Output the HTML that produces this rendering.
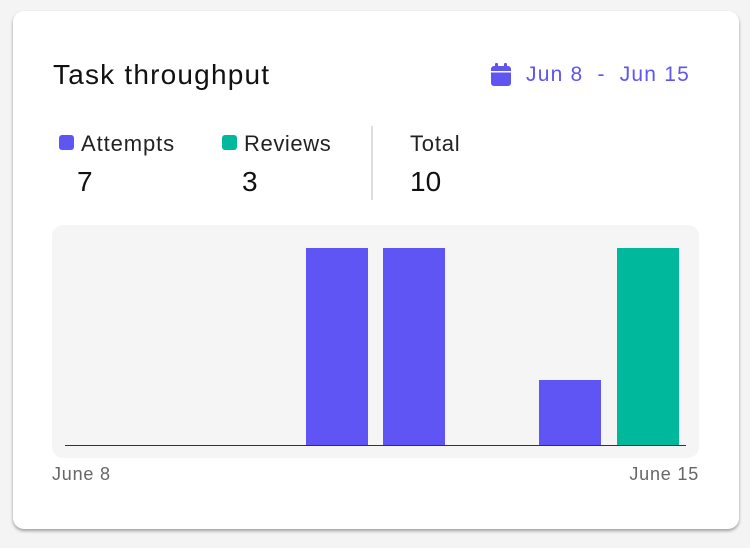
<!DOCTYPE html>
<html><head><style>
body{margin:0;width:750px;height:548px;background:#f4f4f4;font-family:"Liberation Sans",sans-serif;position:relative;overflow:hidden}
.card{position:absolute;left:13px;top:11px;width:726px;height:518px;background:#fff;border-radius:11px;box-shadow:0 2px 3px rgba(0,0,0,.35)}
.t{position:absolute;white-space:nowrap}
.sq{position:absolute;width:15px;height:15px;border-radius:3px}
.bar{position:absolute}
</style></head><body>
<div class="card"></div>
<div class="t" style="left:53px;top:59px;font-size:28px;color:#111;letter-spacing:1.2px">Task throughput</div>
<svg style="position:absolute;left:490px;top:63px" width="22" height="24" viewBox="0 0 22 24"><rect x="1" y="3" width="20" height="20" rx="3" fill="#5f55f0"/><rect x="5" y="0" width="3" height="6" rx="1" fill="#5f55f0"/><rect x="14" y="0" width="3" height="6" rx="1" fill="#5f55f0"/><rect x="1" y="8" width="20" height="1.5" fill="#fff"/></svg>
<div class="t" style="left:526px;top:63px;font-size:21px;color:#5f55f0;letter-spacing:1.2px">Jun 8&nbsp;&nbsp;-&nbsp;&nbsp;Jun 15</div>
<div class="sq" style="left:59px;top:135px;background:#5f55f0"></div>
<div class="t" style="left:81px;top:131px;font-size:22px;color:#222;letter-spacing:0.9px">Attempts</div>
<div class="t" style="left:77px;top:166px;font-size:28px;color:#111">7</div>
<div class="sq" style="left:222px;top:135px;background:#00b89c"></div>
<div class="t" style="left:244px;top:131px;font-size:22px;color:#222;letter-spacing:0.6px">Reviews</div>
<div class="t" style="left:242px;top:166px;font-size:28px;color:#111">3</div>
<div style="position:absolute;left:371px;top:126px;width:2px;height:74px;background:#ddd"></div>
<div class="t" style="left:410px;top:131px;font-size:22px;color:#222;letter-spacing:0.8px">Total</div>
<div class="t" style="left:410px;top:166px;font-size:28px;color:#111">10</div>
<div style="position:absolute;left:52px;top:225px;width:647px;height:233px;background:#f5f5f5;border-radius:11px"></div>
<div class="bar" style="left:306px;top:248px;width:62px;height:197px;background:#5f55f5"></div>
<div class="bar" style="left:383px;top:248px;width:62px;height:197px;background:#5f55f5"></div>
<div class="bar" style="left:539px;top:380px;width:62px;height:65px;background:#5f55f5"></div>
<div class="bar" style="left:617px;top:248px;width:62px;height:197px;background:#00b89c"></div>
<div style="position:absolute;left:65px;top:445px;width:621px;height:1px;background:#333"></div>
<div class="t" style="left:52px;top:464px;font-size:18px;color:#666;letter-spacing:0.8px">June 8</div>
<div class="t" style="right:51px;top:464px;font-size:18px;color:#666;letter-spacing:0.8px">June 15</div>
</body></html>
